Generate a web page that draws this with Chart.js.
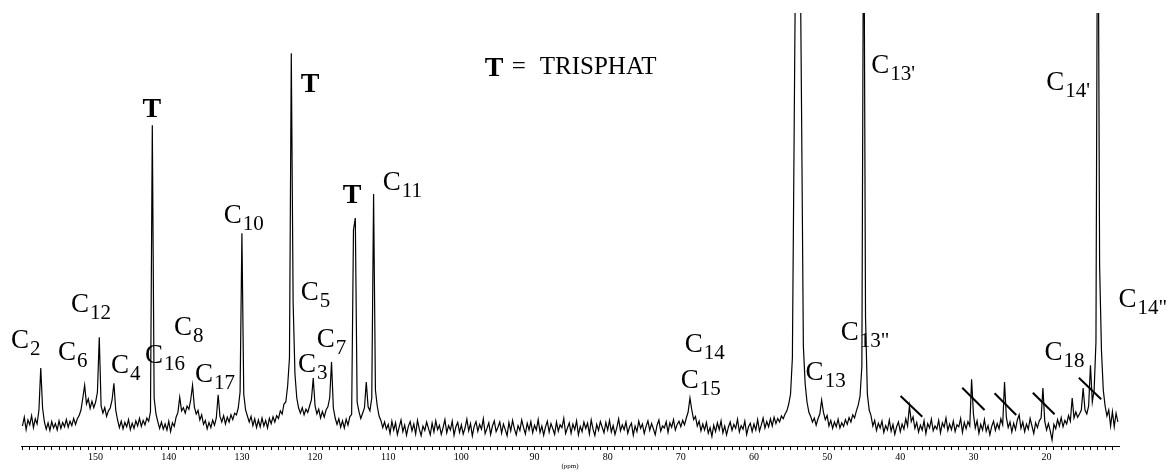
<!DOCTYPE html>
<html>
<head>
<meta charset="utf-8">
<script src="https://cdn.jsdelivr.net/npm/chart.js@4.4.1/dist/chart.umd.min.js"></script>
<style>
  html, body { margin: 0; padding: 0; background: #fff; }
  #wrap { width: 1172px; height: 473px; }
</style>
</head>
<body>
<div id="wrap"><canvas id="nmr" width="1172" height="473"></canvas></div>
<script>
// 13C spectrum, sampled every 0.25 ppm from 160 ppm down to 10.25 ppm
const ppmStart = 160;
const ppmStep = 0.25;
const intensity = [
  5.0, 7.2, 4.1, 6.5, 5.3, 7.6, 4.6, 6.8, 5.5, 9.0, 19.5, 9.5, 6.0, 4.2, 5.8, 3.9, 6.1, 4.5, 5.6, 4.0,        // 160
  6.3, 4.4, 5.9, 4.8, 6.6, 4.7, 6.2, 5.1, 6.9, 5.4, 6.8, 7.6, 9.0, 12.0, 15.2, 10.5, 11.8, 9.4, 11.2, 9.6,  // 155
  11.0, 13.5, 27.2, 10.0, 8.2, 9.6, 7.4, 8.8, 9.5, 11.5, 15.7, 9.0, 6.5, 4.6, 6.2, 4.3, 5.9, 4.8, 6.6, 4.1, // 150
  5.7, 4.4, 6.3, 5.0, 6.9, 4.9, 6.4, 5.3, 7.0, 6.2, 8.5, 80.2, 12.0, 8.0, 6.1, 4.4, 6.0, 4.2, 5.5, 4.0,     // 145
  6.2, 3.6, 5.8, 4.9, 7.2, 8.4, 12.2, 8.8, 9.6, 8.2, 10.0, 9.2, 11.5, 15.2, 9.8, 8.0, 8.9, 6.5, 7.8, 5.4,   // 140
  6.4, 4.3, 5.9, 4.6, 6.5, 5.2, 7.0, 12.8, 7.4, 6.0, 7.6, 5.5, 7.2, 6.0, 7.8, 6.6, 8.2, 7.8, 9.5, 13.5,     // 135
  53.2, 13.0, 9.0, 7.5, 6.0, 7.4, 5.1, 6.8, 4.6, 6.5, 4.8, 7.0, 5.0, 6.4, 4.5, 6.9, 5.6, 7.3, 6.0, 7.6,     // 130
  6.9, 8.8, 8.0, 10.5, 11.0, 15.0, 22.0, 98.2, 36.0, 18.0, 12.0, 9.5, 8.2, 9.6, 7.8, 9.2, 8.4, 10.0, 11.5, 17.0, // 125
  10.0, 8.0, 9.2, 7.0, 8.6, 7.2, 9.0, 9.8, 12.0, 21.0, 9.5, 7.0, 5.4, 6.8, 4.7, 6.3, 4.5, 6.7, 5.2, 7.3,    // 120
  7.9, 54.0, 57.0, 11.0, 8.6, 6.9, 8.2, 9.5, 16.0, 9.8, 8.8, 12.0, 63.0, 14.0, 10.0, 7.5, 6.4, 4.6, 6.0, 4.2, // 115
  5.4, 3.1, 6.2, 4.0, 5.8, 2.9, 4.7, 6.5, 3.6, 5.2, 2.7, 4.9, 6.1, 3.8, 5.5, 3.0, 6.4, 4.2, 2.6, 5.0,       // 110
  3.9, 6.0, 4.4, 2.8, 5.7, 3.5, 6.3, 4.1, 5.2, 2.9, 4.6, 6.6, 3.3, 5.1, 4.0, 6.2, 2.7, 4.8, 5.9, 3.4,       // 105
  5.3, 3.0, 4.5, 6.7, 3.8, 5.6, 2.5, 4.9, 6.1, 3.7, 5.4, 4.2, 6.8, 3.1, 4.4, 5.8, 2.9, 5.0, 6.3, 3.6,       // 100
  4.7, 6.0, 3.2, 5.5, 4.1, 2.6, 5.9, 3.8, 6.4, 4.3, 2.8, 5.1, 3.9, 6.5, 4.6, 3.0, 5.7, 4.0, 6.1, 3.3,       // 95
  5.2, 4.0, 6.6, 3.4, 5.0, 2.7, 4.8, 6.2, 3.5, 5.6, 4.3, 2.9, 6.0, 3.7, 5.3, 4.6, 6.9, 3.1, 4.5, 5.8,       // 90
  3.2, 5.5, 4.1, 6.3, 2.8, 4.9, 3.6, 6.0, 4.4, 5.7, 3.0, 6.5, 4.2, 2.6, 5.4, 3.9, 6.1, 4.7, 3.3, 5.9,       // 85
  4.0, 6.4, 3.5, 5.1, 2.9, 4.6, 6.8, 3.8, 5.3, 4.1, 6.0, 3.2, 4.8, 5.7, 2.7, 5.0, 3.6, 6.2, 4.4, 5.5,       // 80
  3.1, 4.9, 6.3, 3.9, 5.6, 4.3, 2.8, 5.2, 6.5, 3.7, 5.0, 4.5, 6.1, 3.4, 5.8, 4.7, 6.6, 4.0, 5.4, 6.2,       // 75
  4.8, 6.4, 5.3, 7.0, 8.5, 12.0, 9.0, 6.6, 7.4, 5.0, 6.2, 3.8, 5.5, 4.0, 5.9, 3.2, 4.6, 2.4, 5.2, 3.6,      // 70
  5.8, 4.1, 6.3, 3.3, 5.0, 2.8, 4.7, 6.0, 3.9, 5.4, 4.4, 6.7, 3.5, 5.1, 4.2, 6.2, 2.9, 4.8, 5.7, 3.6,       // 65
  5.5, 4.0, 6.6, 3.7, 5.2, 7.0, 4.5, 6.1, 4.8, 6.8, 5.0, 7.2, 5.6, 6.9, 6.0, 7.5, 6.8, 8.0, 8.8, 10.5,      // 60
  13.0, 22.0, 80.0, 140, 160, 140, 85.0, 25.0, 15.5, 11.0, 8.5, 7.4, 6.0, 7.0, 5.2, 6.8, 8.0, 11.5, 8.4, 6.6, // 55
  7.6, 5.0, 6.4, 4.4, 6.0, 4.8, 6.7, 4.5, 5.8, 4.9, 6.6, 5.4, 7.1, 6.0, 7.8, 7.0, 8.8, 10.2, 12.5, 20.0,    // 50
  150, 32.0, 13.0, 9.0, 7.6, 5.0, 6.4, 3.9, 5.7, 4.5, 6.2, 3.4, 5.1, 4.0, 6.5, 3.7, 5.4, 2.9, 4.8, 6.0,     // 45
  3.6, 5.5, 4.2, 6.8, 5.0, 10.0, 6.1, 7.3, 4.4, 5.9, 3.5, 5.2, 4.0, 6.3, 3.1, 5.6, 4.5, 6.7, 3.8, 5.0,      // 40
  4.2, 6.4, 3.3, 5.8, 4.7, 7.0, 3.9, 5.5, 4.1, 6.2, 3.6, 5.3, 4.8, 6.9, 3.4, 5.9, 4.3, 6.1, 5.0, 16.7,      // 35
  8.0, 4.5, 6.3, 3.2, 5.4, 4.0, 6.6, 3.7, 5.1, 2.8, 4.9, 6.2, 3.9, 5.6, 4.3, 6.8, 5.3, 16.0, 7.2, 4.6,      // 30
  6.0, 3.5, 5.7, 4.1, 6.5, 7.8, 4.4, 6.0, 3.6, 5.5, 4.2, 6.9, 5.0, 3.1, 5.8, 4.6, 6.3, 7.0, 14.5, 6.2,      // 25
  4.0, 5.6, 3.8, 1.5, 5.4, 4.3, 6.6, 5.0, 7.1, 4.8, 6.4, 5.5, 7.6, 6.2, 12.0, 7.0, 8.5, 7.2, 8.0, 9.0,      // 20
  14.5, 9.0, 8.0, 10.0, 20.2, 11.0, 14.0, 26.0, 160, 45.0, 24.0, 14.0, 10.0, 7.5, 9.0, 5.0, 8.6, 4.8, 8.2, 6.0 // 15
];

// tick labels along the ppm axis
const tickLabels = [150, 140, 130, 120, 110, 100, 90, 80, 70, 60, 50, 40, 30, 20];

// peak assignments: "C" + subscript, anchored at (ppm, intensity) of the text baseline
const labelSub = ['2', '6', '12', '4', '16', '8', '17', '10', '5', '3', '7', '11', '14', '15', '13', "13'", '13"', '18', "14'", '14"'];
const labelPpm = [161.57, 155.15, 153.38, 147.91, 143.26, 139.30, 136.43, 132.47, 121.95, 122.35, 119.76, 110.74, 69.47, 70.02, 52.94, 43.96, 48.15, 20.28, 20.05, 10.17];
const labelInt = [24.5, 21.5, 33.5, 18.25, 20.75, 27.75, 16.0, 55.75, 36.5, 18.5, 24.75, 64.0, 23.6, 14.5, 16.5, 93.25, 26.5, 21.5, 89.0, 34.75];

// TRISPHAT peaks marked with a bold T
const tPpm = [143.58, 121.95, 116.21];
const tInt = [82.2, 88.6, 60.75];

// "T = TRISPHAT" key
const keyPpm = 96.8;
const keyInt = 92.5;

// slashes striking out impurity peaks: [ppm, intensity] start and end
const slashStart = [[39.96, 12.5], [31.53, 14.58], [27.11, 13.18], [21.88, 13.33], [15.59, 17.08]];
const slashEnd = [[36.99, 7.33], [28.48, 9.0], [24.15, 7.75], [18.91, 7.93], [12.53, 11.68]];

const SERIF = '"Liberation Serif", "Times New Roman", serif';

const peakLabels = {
  id: 'peakLabels',
  afterDatasetsDraw(chart) {
    const { ctx, scales } = chart;
    const xs = scales.x;
    const ys = scales.y;
    ctx.save();
    ctx.fillStyle = '#000';
    ctx.textBaseline = 'alphabetic';
    ctx.textAlign = 'left';

    // C labels with subscripts
    labelSub.forEach((sub, i) => {
      const px = xs.getPixelForValue(labelPpm[i]);
      const py = ys.getPixelForValue(labelInt[i]);
      ctx.font = '27px ' + SERIF;
      ctx.fillText('C', px, py);
      const w = ctx.measureText('C').width;
      ctx.font = '21px ' + SERIF;
      ctx.fillText(sub, px + w + 1, py + 7);
    });

    // bold T markers
    ctx.font = 'bold 28px ' + SERIF;
    tPpm.forEach((p, i) => {
      ctx.fillText('T', xs.getPixelForValue(p), ys.getPixelForValue(tInt[i]));
    });

    // key
    const kx = xs.getPixelForValue(keyPpm);
    const ky = ys.getPixelForValue(keyInt);
    ctx.font = 'bold 28px ' + SERIF;
    ctx.fillText('T', kx, ky);
    ctx.font = '25px ' + SERIF;
    ctx.fillText('=', kx + 27, ky - 2.5);
    ctx.fillText('TRISPHAT', kx + 55, ky - 2.5);

    // slashes
    ctx.strokeStyle = '#000';
    ctx.lineWidth = 2;
    slashStart.forEach((s, i) => {
      const e = slashEnd[i];
      ctx.beginPath();
      ctx.moveTo(xs.getPixelForValue(s[0]), ys.getPixelForValue(s[1]));
      ctx.lineTo(xs.getPixelForValue(e[0]), ys.getPixelForValue(e[1]));
      ctx.stroke();
    });
    ctx.restore();
  }
};

const points = intensity.map((v, i) => ({ x: ppmStart - i * ppmStep, y: v }));

new Chart(document.getElementById('nmr'), {
  type: 'line',
  data: {
    datasets: [{
      data: points,
      borderColor: '#000',
      borderWidth: 1.2,
      pointRadius: 0,
      tension: 0,
      fill: false
    }]
  },
  options: {
    responsive: false,
    animation: false,
    devicePixelRatio: 1,
    layout: { padding: { left: 21, right: 53, top: 13, bottom: 0 } },
    plugins: {
      legend: { display: false },
      tooltip: { enabled: false }
    },
    scales: {
      x: {
        type: 'linear',
        reverse: true,
        min: 10.1,
        max: 160.2,
        afterFit: (scale) => { scale.height = 27; },
        border: { display: true, color: '#000', width: 1 },
        grid: {
          drawOnChartArea: false,
          drawTicks: true,
          tickLength: 4,
          color: '#000',
          lineWidth: 1
        },
        ticks: {
          stepSize: 1,
          includeBounds: false,
          autoSkip: false,
          maxRotation: 0,
          padding: 1,
          color: '#000',
          font: { family: SERIF, size: 10 },
          callback: (v) => tickLabels.includes(v) ? String(v) : ''
        },
        title: {
          display: true,
          text: '(ppm)',
          color: '#000',
          font: { family: SERIF, size: 7 },
          padding: { top: 0, bottom: 3 }
        }
      },
      y: {
        display: false,
        min: 0,
        max: 108.25
      }
    }
  },
  plugins: [peakLabels]
});
</script>
</body>
</html>
